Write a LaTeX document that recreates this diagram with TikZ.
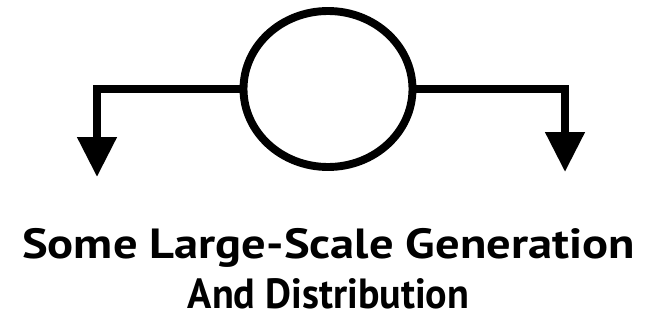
\documentclass[tikz,border=0pt]{standalone}
\usepackage{fontspec}
\newfontfamily\capfont{PT Sans}
\usetikzlibrary{shapes.geometric,arrows.meta}

\begin{document}
\begin{tikzpicture}[
		flow/.style={line width=4.5pt, -{Triangle[width=0.76cm,length=0.8cm]}},
		caption/.style={anchor=base, inner sep=0pt, transform shape,
			font=\fontsize{24}{28}\capfont\bfseries}]
		\useasboundingbox (0,0) rectangle (12.96,6.4);
		% Fuente central
		\node[ellipse, draw, line width=4.5pt, inner sep=0pt,
			minimum width=3.38cm, minimum height=3.12cm] (gen) at (6.56,4.62) {};
		% Extremos de las flechas
		\coordinate (ltip) at (1.94,2.86);
		\coordinate (rtip) at (11.3,2.96);
		\draw[flow] (gen.west) -| (ltip);
		\draw[flow] (gen.east) -| (rtip);
		% Rótulo inferior
		\node[caption, xscale=1.15] (cap1) at (6.57,1.24) {Some Large-Scale Generation};
		\node[caption, xscale=0.95] (cap2) at (6.57,0.24) {And Distribution};
	\end{tikzpicture}
\end{document}
